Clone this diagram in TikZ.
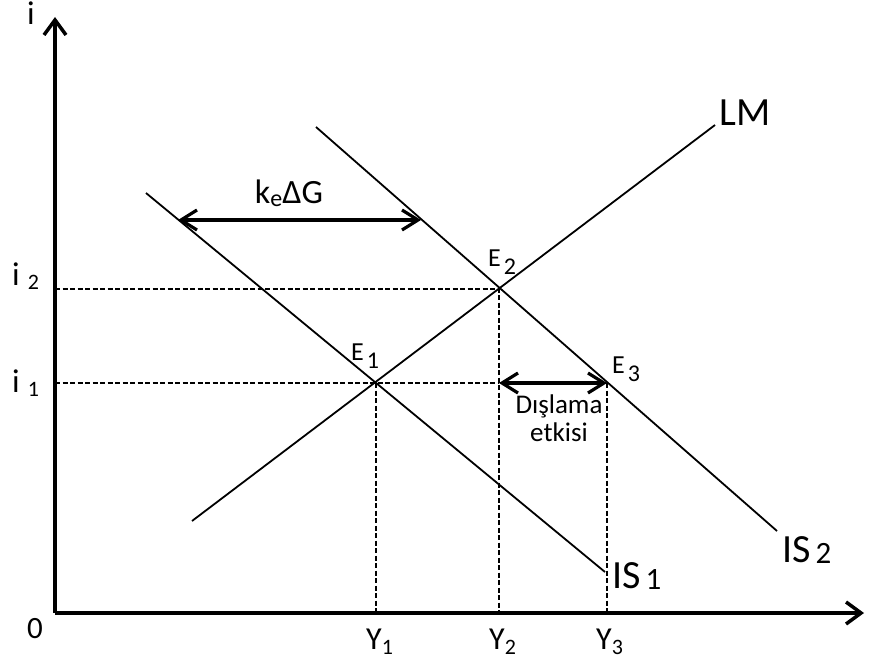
\documentclass[tikz,border=0pt]{standalone}
\usepackage{fontspec}
\setmainfont{Carlito}
\usetikzlibrary{arrows.meta}
\newcommand{\fsz}[1]{\fontsize{#1}{#1}\selectfont}
\begin{document}
\begin{tikzpicture}[x=1pt,y=-1pt,
  axisline/.style={line width=3.5pt,-{Straight Barb[length=15pt,width=22pt]}},
  curve/.style={line width=1.8pt},
  guide/.style={line width=1.2pt,dash pattern=on 5pt off 2.5pt},
  shiftarrow/.style={line width=3.2pt,{Straight Barb[length=16pt,width=20pt]}-{Straight Barb[length=16pt,width=20pt]}},
  lbl/.style={inner sep=0pt,anchor=base west},
  lblc/.style={inner sep=0pt,anchor=base}]
\useasboundingbox (0,0) rectangle (869,661);
% key points
\coordinate (O) at (55,613);
\coordinate (ytop) at (55,17);
\coordinate (xend) at (864,613);
\coordinate (E1) at (376,383);
\coordinate (E2) at (499,289);
\coordinate (E3) at (607,383);
\coordinate (LMa) at (192,521);
\coordinate (LMb) at (715,125);
\coordinate (IS1a) at (146,193);
\coordinate (IS1b) at (605,572);
\coordinate (IS2a) at (316,127);
\coordinate (IS2b) at (777,531);
\coordinate (i2) at (55,289);
\coordinate (i1) at (55,383);
\coordinate (Y1) at (376,613);
\coordinate (Y2) at (499,613);
\coordinate (Y3) at (607,613);
\coordinate (Y2m) at (499,383);
\coordinate (kL) at (178,220);
\coordinate (kR) at (421,220);
% guides
\draw[guide] (i2) -- (E2) -- (Y2);
\draw[guide] (i1) -- (E1) -- (Y2m);
\draw[guide] (E1) -- (Y1);
\draw[guide] (E3) -- (Y3);
% curves
\draw[curve] (LMa) -- (LMb);
\draw[curve] (IS1a) -- (IS1b);
\draw[curve] (IS2a) -- (IS2b);
% axes
\draw[axisline] (O) -- (ytop);
\draw[axisline] (O) -- (xend);
% shift arrows
\draw[shiftarrow] (kL) -- (kR);
\draw[shiftarrow] (Y2m) -- (E3);
% labels
\node[lbl] (li) at (27,25) {\fsz{33}i};
\node[lbl] (li2) at (12,285) {\fsz{33}i\hspace{8pt}\raisebox{-4pt}{\fsz{22}2}};
\node[lbl] (li1) at (12,392) {\fsz{33}i\hspace{8pt}\raisebox{-4pt}{\fsz{22}1}};
\node[lbl] (l0) at (27,638) {\fsz{31}0};
\node[lbl] (lY1) at (366,649) {\fsz{32}Y\raisebox{-5pt}{\fsz{22}1}};
\node[lbl] (lY2) at (489,649) {\fsz{32}Y\raisebox{-5pt}{\fsz{22}2}};
\node[lbl] (lY3) at (596,649) {\fsz{32}Y\raisebox{-5pt}{\fsz{22}3}};
\node[lbl] (lE1) at (351,360) {\fsz{26}E\hspace{3pt}\raisebox{-8pt}{\fsz{24}1}};
\node[lbl] (lE2) at (488,266) {\fsz{26}E\hspace{3pt}\raisebox{-8pt}{\fsz{24}2}};
\node[lbl] (lE3) at (612,373) {\fsz{26}E\hspace{3pt}\raisebox{-8pt}{\fsz{24}3}};
\node[lblc] (lk) at (289,203) {\fsz{34}k\raisebox{-3pt}{\fsz{24}e}ΔG};
\node[lblc] (ld1) at (559,413) {\fsz{27}Dışlama};
\node[lblc] (ld2) at (559,441) {\fsz{27}etkisi};
\node[lbl] (lLM) at (719,125) {\fsz{40}LM};
\node[lbl] (lIS1) at (612,588) {\fsz{40}IS\hspace{5pt}\raisebox{-1pt}{\fsz{31}1}};
\node[lbl] (lIS2) at (782,562) {\fsz{40}IS\hspace{5pt}\raisebox{-1pt}{\fsz{31}2}};
\end{tikzpicture}
\end{document}
